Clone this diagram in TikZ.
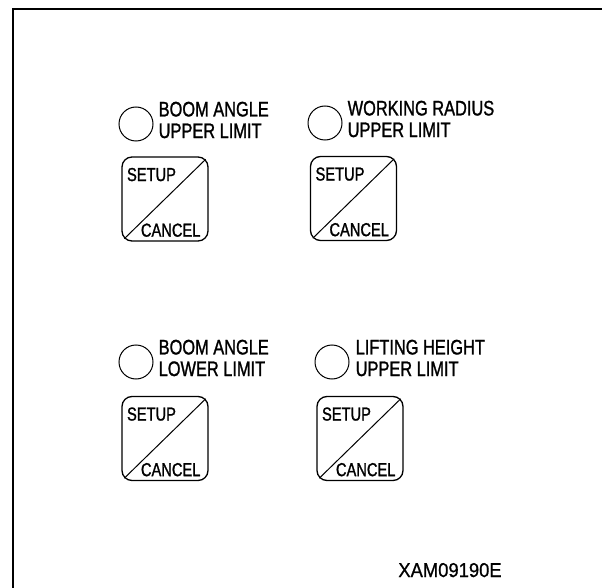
\documentclass[tikz,border=0pt]{standalone}
\usepackage{fontspec}
\setmainfont{Liberation Sans}
\newfontfamily\narrowfont{Liberation Sans}[FakeStretch=0.78, FakeBold=1.2]
\newfontfamily\codefont{Liberation Sans}[FakeStretch=0.92, FakeBold=0.8]
\usepackage{tikz}
\usetikzlibrary{positioning,calc}
\tikzset{
  lamp/.style={circle, draw, line width=1pt, inner sep=0pt, minimum size=34pt},
  lamplabel/.style={inner sep=0pt, align=left, font=\narrowfont\fontsize{21}{21.6}\selectfont, yshift=4pt},
  keybox/.style={rectangle, rounded corners=10pt, draw, line width=1.3pt, minimum width=86pt, minimum height=84pt},
  keytext/.style={inner sep=0pt, font=\narrowfont\fontsize{18.8}{20}\selectfont},
  keyline/.style={line width=1pt}
}
\begin{document}
\begin{tikzpicture}[x=1pt, y=-1pt]
\useasboundingbox (0,0) rectangle (602,588);
% panel frame
\draw[line width=2pt] (602,9.5) -- (12.5,9.5) -- (12.5,588);
% boom angle upper limit
\node[lamp] (lampA) at (136,124) {};
\node[lamplabel, right=5pt of lampA] (labA) {BOOM ANGLE\\UPPER LIMIT};
\node[keybox] (keyA) at (165,199) {};
\node[keytext, anchor=base west] (setA) at ($(keyA.north west)+(5.5pt,-24.7pt)$) {SETUP};
\node[keytext, anchor=base east] (canA) at ($(keyA.south east)+(-8pt,5pt)$) {CANCEL};
\draw[keyline] ($(keyA.south west)+(3pt,3pt)$) -- ($(keyA.north east)+(-3pt,-3pt)$);
% working radius upper limit
\node[lamp] (lampB) at (325,123) {};
\node[lamplabel, right=5pt of lampB] (labB) {WORKING RADIUS\\UPPER LIMIT};
\node[keybox] (keyB) at (353.5,198.5) {};
\node[keytext, anchor=base west] (setB) at ($(keyB.north west)+(5.5pt,-24.7pt)$) {SETUP};
\node[keytext, anchor=base east] (canB) at ($(keyB.south east)+(-8pt,5pt)$) {CANCEL};
\draw[keyline] ($(keyB.south west)+(3pt,3pt)$) -- ($(keyB.north east)+(-3pt,-3pt)$);
% boom angle lower limit
\node[lamp] (lampC) at (136,362) {};
\node[lamplabel, right=5pt of lampC] (labC) {BOOM ANGLE\\LOWER LIMIT};
\node[keybox] (keyC) at (165,438.5) {};
\node[keytext, anchor=base west] (setC) at ($(keyC.north west)+(5.5pt,-24.7pt)$) {SETUP};
\node[keytext, anchor=base east] (canC) at ($(keyC.south east)+(-8pt,5pt)$) {CANCEL};
\draw[keyline] ($(keyC.south west)+(3pt,3pt)$) -- ($(keyC.north east)+(-3pt,-3pt)$);
% lifting height upper limit
\node[lamp] (lampD) at (332,362) {};
\node[lamplabel, right=6pt of lampD] (labD) {LIFTING HEIGHT\\UPPER LIMIT};
\node[keybox] (keyD) at (360,438.5) {};
\node[keytext, anchor=base west] (setD) at ($(keyD.north west)+(5.5pt,-24.7pt)$) {SETUP};
\node[keytext, anchor=base east] (canD) at ($(keyD.south east)+(-8pt,5pt)$) {CANCEL};
\draw[keyline] ($(keyD.south west)+(3pt,3pt)$) -- ($(keyD.north east)+(-3pt,-3pt)$);
% figure code
\node[inner sep=0pt, anchor=base, font=\codefont\fontsize{20}{22}\selectfont] (code) at (450,577) {XAM09190E};
\end{tikzpicture}
\end{document}
